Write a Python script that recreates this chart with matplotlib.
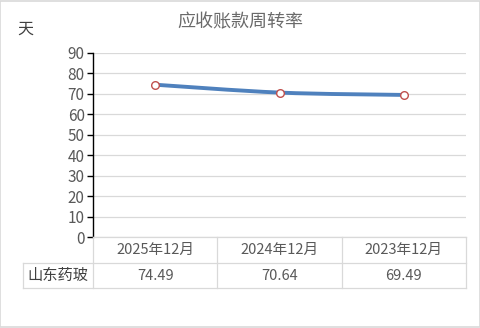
import matplotlib
matplotlib.use("Agg")
import matplotlib.pyplot as plt
from matplotlib.path import Path
from matplotlib.patches import PathPatch, Rectangle
from matplotlib.lines import Line2D
import numpy as np

plt.rcParams['font.family'] = ['Noto Sans CJK SC', 'DejaVu Sans']

#====Data====
categories = ['2025年12月', '2024年12月', '2023年12月']
values = [74.49, 70.64, 69.49]
series_name = '山东药玻'
title = '应收账款周转率'
unit = '天'
yticks = list(range(0, 100, 10))

W, H = 481, 328
fig = plt.figure(figsize=(W / 100, H / 100), dpi=100)

def fx(px):
    return px / W

def fy(py):
    return 1 - py / H

left, right, top, bottom = 93, 466, 53, 237
ax = fig.add_axes([fx(left), fy(bottom), fx(right) - fx(left), fy(top) - fy(bottom)])
ax.set_xlim(-0.5, len(categories) - 0.5)
ax.set_ylim(0, 90)
ax.set_yticks(yticks)
ax.set_xticks([])
ax.grid(axis='y', color='#d9d9d9', linewidth=0.9)
ax.set_axisbelow(True)
for s in ['top', 'right', 'bottom']:
    ax.spines[s].set_visible(False)
ax.spines['left'].set_color('black')
ax.spines['left'].set_linewidth(1.0)
ax.tick_params(axis='y', length=4, width=1, color='black', labelsize=11,
               labelcolor='#595959', pad=2)

#====Smooth line (bezier through the points)====
x = np.arange(len(values), dtype=float)
y = np.array(values, dtype=float)
verts = [(x[0], y[0])]
codes = [Path.MOVETO]
for i in range(len(x) - 1):
    p0 = (x[max(i - 1, 0)], y[max(i - 1, 0)])
    p1 = (x[i], y[i])
    p2 = (x[i + 1], y[i + 1])
    p3 = (x[min(i + 2, len(x) - 1)], y[min(i + 2, len(x) - 1)])
    c1 = (p1[0] + (p2[0] - p0[0]) / 6, p1[1] + (p2[1] - p0[1]) / 6)
    c2 = (p2[0] - (p3[0] - p1[0]) / 6, p2[1] - (p3[1] - p1[1]) / 6)
    verts += [c1, c2, p2]
    codes += [Path.CURVE4] * 3
ax.add_patch(PathPatch(Path(verts, codes), facecolor='none', edgecolor='#4f81bd',
                       linewidth=2.8, capstyle='round', zorder=3))
ax.plot(x, y, linestyle='none', marker='o', markersize=5.5, markerfacecolor='white',
        markeredgecolor='#c0504d', markeredgewidth=1.0, zorder=4)

#====Title and unit====
fig.text(fx(240), fy(22), title, ha='center', va='center', fontsize=13, color='#6a6a6a')
fig.text(fx(25), fy(29), unit, ha='center', va='center', fontsize=11.5, color='#404040')

#====Data table====
grid_c = '#d9d9d9'
row1, row2, row3 = 237, 263, 288
lab_left = 23
col_w = (right - left) / len(categories)
lines = [
    ((left, right), (row1, row1)),
    ((lab_left, right), (row2, row2)),
    ((lab_left, right), (row3, row3)),
    ((lab_left, lab_left), (row2, row3)),
]
for i in range(len(categories) + 1):
    xx = left + i * col_w
    lines.append(((xx, xx), (row1, row3)))
for (xs, ys) in lines:
    fig.add_artist(Line2D([fx(v) for v in xs], [fy(v) for v in ys], color=grid_c, linewidth=0.9))

for i, c in enumerate(categories):
    cx = left + (i + 0.5) * col_w
    fig.text(fx(cx), fy((row1 + row2) / 2), c, ha='center', va='center', fontsize=10.5, color='#595959')
    fig.text(fx(cx), fy((row2 + row3) / 2), f'{values[i]:.2f}', ha='center', va='center',
             fontsize=10.5, color='#595959')
fig.text(fx((lab_left + left) / 2), fy((row2 + row3) / 2), series_name, ha='center', va='center',
         fontsize=11, color='#404040')

#====Outer border====
fig.add_artist(Rectangle((0.001, 0.002), 0.997, 0.995, transform=fig.transFigure,
                         facecolor='none', edgecolor='#d9d9d9', linewidth=1.2))

fig.savefig('out.png', dpi=100)
